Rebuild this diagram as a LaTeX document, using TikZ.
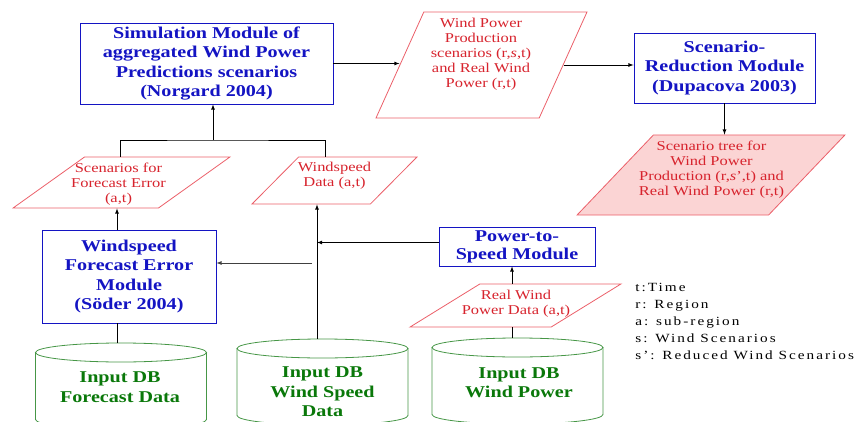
\documentclass[tikz,border=0pt]{standalone}
\usepackage{fontspec}
\setmainfont{Liberation Serif}[FakeStretch=1.22]
\newfontfamily\legendfont{Liberation Serif}[FakeStretch=1.22, LetterSpace=16]
\usepackage{xcolor}
\usepackage{tikz}
\usetikzlibrary{shapes.geometric}

\definecolor{modblue}{RGB}{20,20,195}
\definecolor{datared}{RGB}{235,95,105}
\definecolor{textred}{RGB}{215,35,45}
\definecolor{treefill}{RGB}{251,212,212}
\definecolor{dbgreen}{RGB}{70,150,70}
\definecolor{dbtext}{RGB}{10,120,10}

\tikzset{
    module/.style={draw=modblue, text=modblue, line width=0.8pt, inner sep=0pt,
        align=center, font=\fontsize{16.5}{19.5}\selectfont\bfseries},
    datashape/.style={trapezium, trapezium stretches=true, draw=datared,
        line width=0.8pt, inner sep=2pt},
    datatext/.style={text=textred, inner sep=0pt, align=center,
        font=\fontsize{13.5}{15}\selectfont},
    dbline/.style={draw=dbgreen, line width=0.8pt},
    dbtitle/.style={text=dbtext, inner sep=0pt, align=center,
        font=\fontsize{16.5}{19.5}\selectfont\bfseries},
    legendtext/.style={inner sep=0pt, align=left, font=\legendfont\fontsize{12.5}{17}\selectfont}
}

\begin{document}
\begin{tikzpicture}[>=latex, x=1pt, y=1pt, line width=0.8pt]
    \useasboundingbox (0,0) rectangle (856,-422);

    % Module
    \node[module, minimum width=253pt, minimum height=81pt] (sim) at (206.5,-63.5)
        {Simulation Module of\\aggregated Wind Power\\Predictions scenarios\\(Norgard 2004)};
    \node[module, minimum width=181pt, minimum height=70pt] (red) at (724.5,-68)
        {Scenario-\\Reduction Module\\(Dupacova 2003)};
    \node[module, minimum width=174pt, minimum height=93pt] (wfe) at (129,-276.5)
        {Windspeed\\Forecast Error\\Module\\(Söder 2004)};
    \node[module, minimum width=156pt, minimum height=39pt,
        font=\fontsize{16.5}{18}\selectfont\bfseries] (p2s) at (517,-246.5)
        {Power-to-\\Speed Module};

    % Dữ liệu
    \node[datashape, trapezium left angle=67.5, trapezium right angle=112.5,
        minimum width=211pt, minimum height=106pt] (wpp) at (481.5,-65) {};
    \node[datatext] (wpptext) at (481,-54)
        {Wind Power\\Production\\scenarios (r,\textit{s},t)\\and Real Wind\\Power (r,t)};
    \node[datashape, fill=treefill, trapezium left angle=56.5, trapezium right angle=123.5,
        minimum width=268pt, minimum height=80pt] (tree) at (711,-175) {};
    \node[datatext] (treetext) at (711.5,-169.5)
        {Scenario tree for\\Wind Power\\Production (r,\textit{s}',t) and\\Real Wind Power (r,t)};
    \node[datashape, trapezium left angle=46, trapezium right angle=134,
        minimum width=217pt, minimum height=51pt] (sfe) at (121.5,-182.5) {};
    \node[datatext] (sfetext) at (118.5,-184) {Scenarios for\\Forecast Error\\(a,t)};
    \node[datashape, trapezium left angle=57, trapezium right angle=123,
        minimum width=165pt, minimum height=47pt] (wsd) at (334.5,-180.5) {};
    \node[datatext] (wsdtext) at (334.5,-176) {Windspeed\\Data (a,t)};
    \node[datashape, trapezium left angle=45.7, trapezium right angle=134.3,
        minimum width=211pt, minimum height=43pt] (rwp) at (515.5,-305.5) {};
    \node[datatext] (rwptext) at (516,-303.5) {Real Wind\\Power Data (a,t)};

    % Input DB
    \foreach \cx/\ct/\nm in {121/343/fdb, 322.5/339/wsdb, 517.5/338/wpdb} {
        \draw[dbline] (\cx-85.5,-\ct-9.5) -- ++(0,-67)
            arc[start angle=180, end angle=360, x radius=85.5, y radius=9.5] -- ++(0,67);
        \draw[dbline] (\cx,-\ct-9.5) ellipse [x radius=85.5, y radius=9.5];
        \coordinate (\nm) at (\cx,-\ct);
    }
    \node[dbtitle] (fdbtext) at (120,-387) {Input DB\\Forecast Data};
    \node[dbtitle] (wsdbtext) at (322.5,-392) {Input DB\\Wind Speed\\Data};
    \node[dbtitle] (wpdbtext) at (519,-382.5) {Input DB\\Wind Power};

    % Chú thích
    \node[legendtext, anchor=north west] (legend) at (635,-282.5)
        {t:Time\\r: Region\\a: sub-region\\s: Wind Scenarios\\s’: Reduced Wind Scenarios};

    % Mũi tên
    \draw[->] (sim.east) -- (sim.east -| wpp.west);
    \draw[->] (wpp.east) -- (wpp.east -| red.west);
    \draw[->] (red.south) -- (red.south |- tree.north);

    \coordinate (join) at (213,-140);
    \draw ([xshift=-1.5pt]sfe.north) |- (join) -| ([xshift=-9pt]wsd.north);
    \draw[->] (join) -- (join |- sim.south);

    \draw[->] ([xshift=-12pt]wfe.north) -- ([xshift=-12pt]wfe.north |- sfe.south);
    \draw ([xshift=-4pt]fdb) -- ([xshift=-4pt]fdb |- wfe.south);

    \coordinate (wsline) at ([xshift=-5.5pt]wsdb);
    \draw[->] (wsline) -- (wsline |- wsd.south);
    \draw[->] ([yshift=4pt]p2s.west) -- ([yshift=4pt]p2s.west -| wsline);
    \coordinate (tap) at (312,-263);
    \draw[->, black!75] (tap) -- (tap -| wfe.east);

    \draw[->] ([xshift=-3.5pt]rwp.north) -- ([xshift=-3.5pt]rwp.north |- p2s.south);
    \draw ([xshift=-5.5pt]wpdb) -- ([xshift=-5.5pt]wpdb |- rwp.south);

\end{tikzpicture}
\end{document}
